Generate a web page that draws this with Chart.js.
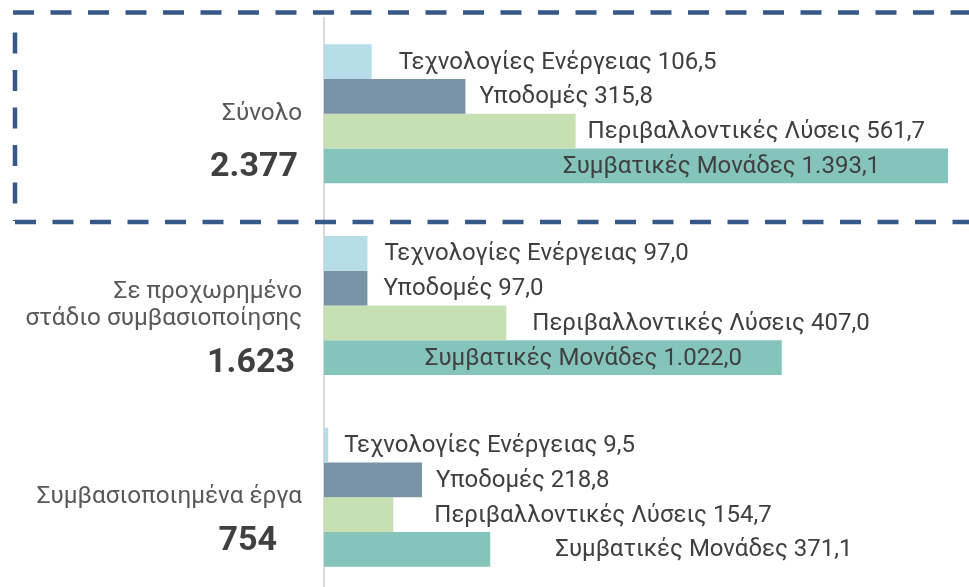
<!DOCTYPE html>
<html lang="el">
<head>
<meta charset="utf-8">
<title>Έργα ανά κατηγορία</title>
<script src="https://cdn.jsdelivr.net/npm/chart.js@4.4.1/dist/chart.umd.min.js"></script>
<style>
  html, body { margin: 0; padding: 0; background: #fff; overflow: hidden; }
  #wrap { position: relative; width: 969px; height: 600px; }
</style>
</head>
<body>
<div id="wrap"><canvas id="c"></canvas></div>
<script>
// Categories (y axis) and the four series, values in εκατ. €
const categories = [
  'Σύνολο',
  ['Σε προχωρημένο', 'στάδιο συμβασιοποίησης'],
  'Συμβασιοποιημένα έργα'
];
const seriesNames = [
  'Τεχνολογίες Ενέργειας',
  'Υποδομές',
  'Περιβαλλοντικές Λύσεις',
  'Συμβατικές Μονάδες'
];
const energyTech     = [106.5, 97.0, 9.5];
const infrastructure = [315.8, 97.0, 218.8];
const environmental  = [561.7, 407.0, 154.7];
const conventional   = [1393.1, 1022.0, 371.1];

const seriesValues = [energyTech, infrastructure, environmental, conventional];
const seriesColors = ['#B5DDE8', '#7893A5', '#C6E0B4', '#84C4BB'];

// Greek number formatting: 1.393,1
function fmt(v, decimals) {
  const s = v.toFixed(decimals);
  let [i, d] = s.split('.');
  i = i.replace(/\B(?=(\d{3})+(?!\d))/g, '.');
  return d ? i + ',' + d : i;
}

const FONT = 'Roboto, "Noto Sans", sans-serif';

// "Name value" labels beside (or inside) each bar
const barLabels = {
  id: 'barLabels',
  afterDatasetsDraw(chart, args, opts) {
    const ctx = chart.ctx;
    ctx.save();
    ctx.font = opts.font;
    ctx.fillStyle = opts.color;
    ctx.textAlign = 'left';
    ctx.textBaseline = 'middle';
    chart.data.datasets.forEach((ds, di) => {
      const meta = chart.getDatasetMeta(di);
      meta.data.forEach((bar, i) => {
        const text = ds.label + ' ' + fmt(ds.data[i], 1);
        const dx = opts.nudge[di][i];
        ctx.fillText(text, bar.x + dx, bar.y + 1);
      });
    });
    ctx.restore();
  }
};

// Bold totals under each category name, summed from the series
const totals = {
  id: 'totals',
  afterDraw(chart, args, opts) {
    const ctx = chart.ctx;
    const y = chart.scales.y;
    ctx.save();
    ctx.font = opts.font;
    ctx.fillStyle = opts.color;
    ctx.textAlign = 'right';
    ctx.textBaseline = 'middle';
    categories.forEach((c, i) => {
      const sum = seriesValues.reduce((a, s) => a + s[i], 0);
      const [dx, dy] = opts.offsets[i];
      ctx.fillText(fmt(Math.round(sum), 0), chart.chartArea.left - 26 + dx, y.getPixelForValue(i) + dy);
    });
    ctx.restore();
  }
};

// Dashed frame around the first group
const frame = {
  id: 'frame',
  afterDraw(chart, args, opts) {
    const ctx = chart.ctx;
    ctx.save();
    ctx.strokeStyle = opts.color;
    ctx.lineWidth = opts.width;
    ctx.setLineDash(opts.dash);
    ctx.lineCap = 'butt';
    const { x0, y0, y1 } = opts;
    ctx.beginPath();
    ctx.moveTo(x0 - 2, y0); ctx.lineTo(chart.width + 10, y0);
    ctx.stroke();
    ctx.beginPath();
    ctx.moveTo(x0, y1); ctx.lineTo(chart.width + 10, y1);
    ctx.stroke();
    ctx.beginPath();
    ctx.moveTo(x0, y0 + 20); ctx.lineTo(x0, y1 - 1);
    ctx.stroke();
    ctx.restore();
  }
};

new Chart(document.getElementById('c'), {
  type: 'bar',
  data: {
    labels: categories,
    datasets: seriesNames.map((name, k) => ({
      label: name,
      data: seriesValues[k],
      backgroundColor: seriesColors[k],
      borderWidth: 0,
      barPercentage: 1,
      categoryPercentage: 0.725
    }))
  },
  options: {
    indexAxis: 'y',
    responsive: true,
    maintainAspectRatio: false,
    animation: false,
    layout: { padding: { top: 18, bottom: 7, left: 0, right: 0 } },
    scales: {
      x: { display: false, min: 0, max: 1440 },
      y: {
        afterFit(scale) {
          scale.width = 324;
          scale.paddingTop = 0;
          scale.paddingBottom = 0;
        },
        grid: { display: false, drawTicks: false },
        border: { display: true, color: '#D9D9D9', width: 2 },
        ticks: {
          padding: 22,
          color: '#595959',
          font: { family: FONT, size: 24.3, lineHeight: 1.12 }
        }
      }
    },
    plugins: {
      legend: { display: false },
      tooltip: { enabled: false },
      barLabels: {
        font: '24px ' + FONT,
        color: '#404040',
        nudge: [
          [27, 17, 16],
          [14, 16, 14],
          [12, 26, 41],
          [-385, -357, 65]
        ]
      },
      totals: {
        font: 'bold 34px ' + FONT,
        color: '#404040',
        offsets: [[0, 54], [-3, 58], [-21, 44]]
      },
      frame: { color: '#36598A', width: 4.5, dash: [21, 16.5], x0: 15, y0: 12.5, y1: 222 }
    }
  },
  plugins: [barLabels, totals, frame]
});
</script>
</body>
</html>
